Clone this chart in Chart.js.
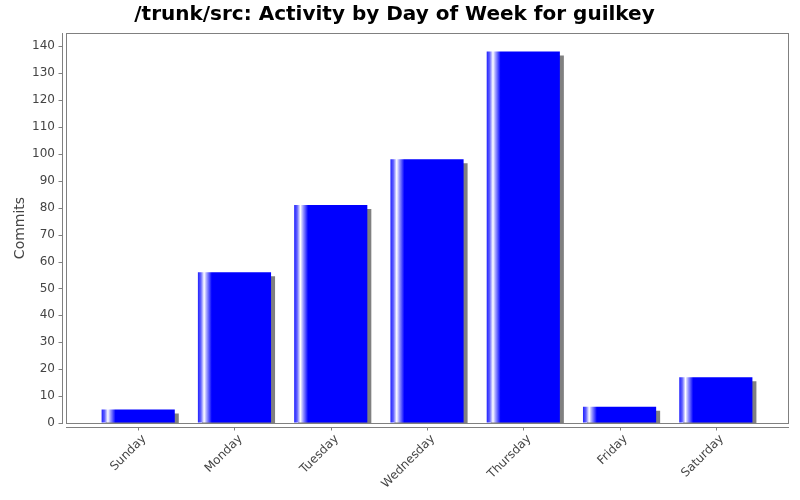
<!DOCTYPE html>
<html>
<head>
<meta charset="utf-8">
<script src="https://cdn.jsdelivr.net/npm/chart.js@4"></script>
<style>
  html, body { margin: 0; padding: 0; background: #fff; }
  #wrap { width: 800px; height: 500px; }
</style>
</head>
<body>
<div id="wrap"><canvas id="chart" width="800" height="500"></canvas></div>
<script>
// chart data
const chartTitle = '/trunk/src: Activity by Day of Week for guilkey';
const days = ['Sunday', 'Monday', 'Tuesday', 'Wednesday', 'Thursday', 'Friday', 'Saturday'];
const commits = [5, 56, 81, 98, 138, 6, 17];
const yTicks = [0, 10, 20, 30, 40, 50, 60, 70, 80, 90, 100, 110, 120, 130, 140];

const axisColor = '#808080';
const labelColor = '#444444';
const barPct = 0.76;

// jfreechart-ish bar gradient: white streak near the left edge
function barGradient(context) {
    const chart = context.chart;
    const xs = chart.scales.x;
    if (!xs || context.dataIndex === undefined) return '#0000ff';
    const cx = xs.getPixelForValue(context.dataIndex);
    const w = Math.abs(xs.getPixelForValue(1) - xs.getPixelForValue(0)) * barPct;
    if (!isFinite(cx) || !isFinite(w) || w <= 0) return '#0000ff';
    const left = cx - w / 2;
    const g = chart.ctx.createLinearGradient(left, 0, left + w, 0);
    g.addColorStop(0, '#2020ff');
    g.addColorStop(0.04, '#6060ff');
    g.addColorStop(0.085, '#ffffff');
    g.addColorStop(0.12, '#a0a0ff');
    g.addColorStop(0.19, '#0000ff');
    g.addColorStop(1, '#0000ff');
    return g;
}

// frame, offset axis lines and tick marks, bar shadows
const jfreeFrame = {
    id: 'jfreeFrame',
    beforeDatasetDraw(chart) {
        const ctx = chart.ctx;
        ctx.save();
        ctx.shadowColor = '#808080';
        ctx.shadowOffsetX = 4;
        ctx.shadowOffsetY = 4;
        ctx.shadowBlur = 0;
    },
    afterDatasetDraw(chart) {
        chart.ctx.restore();
    },
    afterDraw(chart) {
        const ctx = chart.ctx;
        const a = chart.chartArea;
        const xs = chart.scales.x;
        const ys = chart.scales.y;
        ctx.save();
        ctx.strokeStyle = axisColor;
        ctx.lineWidth = 1;
        ctx.strokeRect(Math.round(a.left) + 0.5, Math.round(a.top) + 0.5,
            Math.round(a.right - a.left) - 1, Math.round(a.bottom - a.top));
        ctx.beginPath();
        const ax = Math.round(a.left) - 4 + 0.5;
        ctx.moveTo(ax, a.top);
        ctx.lineTo(ax, a.bottom + 1);
        ys.ticks.forEach(t => {
            const y = Math.round(ys.getPixelForValue(t.value)) + 0.5;
            ctx.moveTo(ax - 4, y);
            ctx.lineTo(ax, y);
        });
        const ay = Math.round(a.bottom) + 4 + 0.5;
        ctx.moveTo(a.left, ay);
        ctx.lineTo(a.right, ay);
        days.forEach((d, i) => {
            const x = Math.round(xs.getPixelForValue(i)) + 0.5;
            ctx.moveTo(x, ay);
            ctx.lineTo(x, ay + 3);
        });
        ctx.stroke();
        ctx.restore();
    }
};

new Chart(document.getElementById('chart'), {
    type: 'bar',
    data: {
        datasets: [{
            label: 'Commits',
            data: days.map((d, i) => ({ x: i, y: commits[i] })),
            backgroundColor: barGradient,
            borderWidth: 0,
            barPercentage: barPct,
            categoryPercentage: 1.0
        }]
    },
    options: {
        responsive: false,
        animation: false,
        layout: { padding: { left: 0, right: 11, top: 0, bottom: 0 } },
        plugins: {
            legend: { display: false },
            tooltip: { enabled: false },
            title: {
                display: true,
                text: chartTitle,
                color: '#000000',
                font: { family: 'DejaVu Sans', size: 20, weight: 'bold' },
                padding: { top: 3, bottom: 6 }
            }
        },
        scales: {
            x: {
                type: 'linear',
                offset: false,
                min: -0.75,
                max: 6.76,
                afterBuildTicks(scale) {
                    scale.ticks = days.map((d, i) => ({ value: i }));
                },
                afterFit(scale) { scale.height = 77; },
                grid: { display: true, drawOnChartArea: false, drawTicks: true, tickLength: 8, color: 'transparent' },
                border: { display: false },
                ticks: {
                    autoSkip: false,
                    maxRotation: 45,
                    minRotation: 45,
                    padding: 1,
                    labelOffset: 6,
                    color: labelColor,
                    font: { family: 'DejaVu Sans', size: 12 },
                    callback: (v) => days[v]
                }
            },
            y: {
                min: 0,
                max: 144.9,
                afterBuildTicks(scale) {
                    scale.ticks = yTicks.map(v => ({ value: v }));
                },
                afterFit(scale) { scale.width = 66; },
                grid: { display: true, drawOnChartArea: false, drawTicks: true, tickLength: 8, color: 'transparent' },
                border: { display: false },
                ticks: {
                    padding: 3,
                    color: labelColor,
                    font: { family: 'DejaVu Sans', size: 12 }
                },
                title: {
                    display: true,
                    text: 'Commits',
                    color: labelColor,
                    font: { family: 'DejaVu Sans', size: 14 },
                    padding: { top: 12, bottom: 0 }
                }
            }
        }
    },
    plugins: [jfreeFrame]
});
</script>
</body>
</html>
